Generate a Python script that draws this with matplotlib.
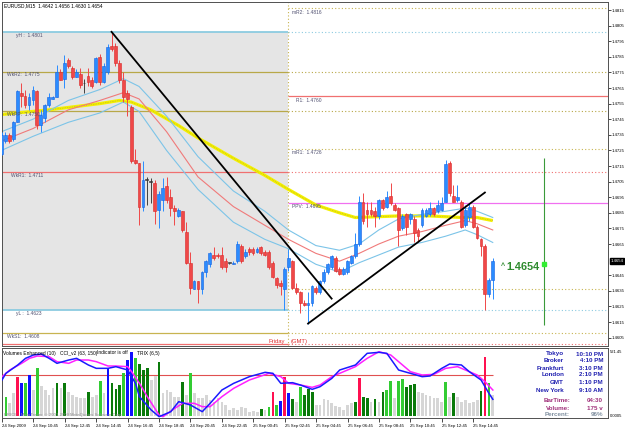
import matplotlib
matplotlib.use("Agg")
import matplotlib.pyplot as plt
from matplotlib.transforms import blended_transform_factory
import numpy as np

plt.rcParams['font.family'] = ['Liberation Sans', 'DejaVu Sans']

W, H = 625, 429

# EURUSD M15, bar 0 = 24 Sep 08:45
opens = [1.4723, 1.4731, 1.4735, 1.4732, 1.4743, 1.4762, 1.4760, 1.4754, 1.4757, 1.4763,
         1.4741, 1.4746, 1.4754, 1.4758, 1.4759, 1.4775, 1.4771, 1.4783, 1.4778, 1.4772,
         1.4774, 1.4768, 1.4773, 1.4770, 1.4769, 1.4785, 1.4769, 1.4775, 1.4792, 1.4792,
         1.4781, 1.4770, 1.4762, 1.4753, 1.4719, 1.4717, 1.4689, 1.4706, 1.4705, 1.4704,
         1.4687, 1.4693, 1.4702, 1.4695, 1.4688, 1.4683, 1.4686, 1.4673, 1.4653, 1.4636,
         1.4641, 1.4636, 1.4647, 1.4652, 1.4658, 1.4658, 1.4658, 1.4654, 1.4653, 1.4652,
         1.4654, 1.4664, 1.4657, 1.4662, 1.4662, 1.4660, 1.4663, 1.4660, 1.4660, 1.4653,
         1.4643, 1.4640, 1.4636, 1.4650, 1.4654, 1.4637, 1.4634, 1.4627, 1.4626, 1.4627,
         1.4637, 1.4634, 1.4641, 1.4647, 1.4650, 1.4656, 1.4649, 1.4646, 1.4647, 1.4653,
         1.4657, 1.4665, 1.4692, 1.4687, 1.4687, 1.4686, 1.4683, 1.4693, 1.4689, 1.4696,
         1.4690, 1.4688, 1.4675, 1.4684, 1.4681, 1.4681, 1.4674, 1.4677, 1.4683, 1.4684,
         1.4688, 1.4686, 1.4687, 1.4692, 1.4717, 1.4696, 1.4693, 1.4692, 1.4677, 1.4682,
         1.4689, 1.4676, 1.4668, 1.4664, 1.4633, 1.4642]
highs = [1.4737, 1.4737, 1.4736, 1.4744, 1.4764, 1.4768, 1.4764, 1.4762, 1.4766, 1.4764,
         1.4751, 1.4755, 1.4762, 1.4760, 1.4780, 1.4777, 1.4786, 1.4784, 1.4779, 1.4777,
         1.4778, 1.4771, 1.4778, 1.4772, 1.4785, 1.4787, 1.4781, 1.4793, 1.4801, 1.4794,
         1.4783, 1.4775, 1.4764, 1.4754, 1.4726, 1.4717, 1.4718, 1.4708, 1.4707, 1.4706,
         1.4699, 1.4707, 1.4708, 1.4700, 1.4690, 1.4688, 1.4686, 1.4679, 1.4660, 1.4642,
         1.4641, 1.4648, 1.4655, 1.4660, 1.4663, 1.4659, 1.4663, 1.4656, 1.4653, 1.4654,
         1.4667, 1.4665, 1.4662, 1.4663, 1.4663, 1.4663, 1.4664, 1.4661, 1.4661, 1.4654,
         1.4644, 1.4642, 1.4650, 1.4662, 1.4655, 1.4640, 1.4635, 1.4629, 1.4634, 1.4639,
         1.4638, 1.4642, 1.4649, 1.4653, 1.4658, 1.4657, 1.4650, 1.4650, 1.4655, 1.4658,
         1.4672, 1.4696, 1.4698, 1.4692, 1.4692, 1.4689, 1.4694, 1.4694, 1.4699, 1.4704,
         1.4691, 1.4689, 1.4684, 1.4685, 1.4685, 1.4683, 1.4675, 1.4688, 1.4688, 1.4692,
         1.4689, 1.4693, 1.4695, 1.4719, 1.4718, 1.4703, 1.4703, 1.4693, 1.4690, 1.4691,
         1.4690, 1.4677, 1.4669, 1.4665, 1.4643, 1.4656]
lows = [1.4722, 1.4730, 1.4730, 1.4731, 1.4743, 1.4753, 1.4752, 1.4751, 1.4754, 1.4739,
        1.4737, 1.4743, 1.4753, 1.4758, 1.4759, 1.4770, 1.4765, 1.4778, 1.4771, 1.4772,
        1.4765, 1.4762, 1.4766, 1.4765, 1.4768, 1.4767, 1.4768, 1.4774, 1.4789, 1.4779,
        1.4768, 1.4756, 1.4747, 1.4717, 1.4716, 1.4677, 1.4686, 1.4690, 1.4691, 1.4678,
        1.4675, 1.4686, 1.4691, 1.4683, 1.4677, 1.4682, 1.4673, 1.4652, 1.4633, 1.4636,
        1.4627, 1.4633, 1.4644, 1.4650, 1.4655, 1.4656, 1.4649, 1.4647, 1.4652, 1.4652,
        1.4653, 1.4653, 1.4656, 1.4658, 1.4658, 1.4659, 1.4658, 1.4657, 1.4649, 1.4643,
        1.4637, 1.4632, 1.4623, 1.4648, 1.4636, 1.4633, 1.4621, 1.4625, 1.4614, 1.4625,
        1.4633, 1.4633, 1.4640, 1.4646, 1.4649, 1.4647, 1.4645, 1.4645, 1.4646, 1.4652,
        1.4656, 1.4664, 1.4678, 1.4676, 1.4683, 1.4676, 1.4681, 1.4687, 1.4688, 1.4690,
        1.4686, 1.4664, 1.4674, 1.4671, 1.4678, 1.4666, 1.4666, 1.4676, 1.4682, 1.4683,
        1.4683, 1.4685, 1.4686, 1.4692, 1.4696, 1.4692, 1.4692, 1.4675, 1.4676, 1.4680,
        1.4675, 1.4668, 1.4657, 1.4623, 1.4631, 1.4630]
closes = [1.4735, 1.4735, 1.4731, 1.4743, 1.4763, 1.4760, 1.4754, 1.4759, 1.4764, 1.4741,
          1.4748, 1.4754, 1.4759, 1.4759, 1.4775, 1.4770, 1.4781, 1.4779, 1.4772, 1.4775,
          1.4767, 1.4768, 1.4769, 1.4766, 1.4784, 1.4769, 1.4779, 1.4791, 1.4790, 1.4781,
          1.4770, 1.4759, 1.4758, 1.4718, 1.4717, 1.4689, 1.4706, 1.4706, 1.4705, 1.4686,
          1.4697, 1.4701, 1.4693, 1.4688, 1.4686, 1.4687, 1.4674, 1.4653, 1.4637, 1.4641,
          1.4636, 1.4647, 1.4654, 1.4659, 1.4656, 1.4657, 1.4650, 1.4650, 1.4653, 1.4653,
          1.4665, 1.4654, 1.4660, 1.4660, 1.4659, 1.4662, 1.4659, 1.4658, 1.4650, 1.4644,
          1.4639, 1.4638, 1.4649, 1.4656, 1.4637, 1.4634, 1.4627, 1.4626, 1.4627, 1.4638,
          1.4634, 1.4641, 1.4647, 1.4652, 1.4657, 1.4648, 1.4646, 1.4649, 1.4654, 1.4657,
          1.4665, 1.4692, 1.4680, 1.4684, 1.4684, 1.4683, 1.4693, 1.4688, 1.4695, 1.4691,
          1.4687, 1.4674, 1.4683, 1.4676, 1.4684, 1.4672, 1.4670, 1.4687, 1.4687, 1.4688,
          1.4684, 1.4690, 1.4691, 1.4716, 1.4698, 1.4692, 1.4695, 1.4676, 1.4687, 1.4689,
          1.4676, 1.4669, 1.4664, 1.4633, 1.4642, 1.4654]

# moving average envelope (bar index -> price)
ma_idx = [0, 8, 17, 25, 31, 35, 42, 50, 59, 67, 73, 80, 86, 91, 96, 101, 107, 113, 118, 121, 125]
ma_mid = [1.4731, 1.4739, 1.4751, 1.4757, 1.4762, 1.4758, 1.4737, 1.4708, 1.4689, 1.4677, 1.4668,
          1.4659, 1.4654, 1.4659, 1.4665, 1.4670, 1.4673, 1.4677, 1.4680, 1.4678, 1.4674]
ma_up = [1.4737, 1.4745, 1.4757, 1.4764, 1.4771, 1.4766, 1.4747, 1.4721, 1.4699, 1.4686, 1.4674,
         1.4664, 1.4661, 1.4665, 1.4674, 1.4681, 1.4684, 1.4686, 1.4688, 1.4686, 1.4682]
ma_low = [1.4725, 1.4734, 1.4743, 1.4749, 1.4756, 1.4750, 1.4725, 1.4700, 1.4679, 1.4668, 1.4662,
          1.4652, 1.4647, 1.4653, 1.4658, 1.4663, 1.4666, 1.4670, 1.4674, 1.4671, 1.4666]
slow_idx = [0, 12, 25, 30, 33, 38, 45, 50, 59, 67, 73, 80, 86, 90, 101, 109, 117, 121, 125]
slow_ma = [1.4748, 1.4751, 1.4755, 1.4757, 1.4756, 1.4751, 1.4741, 1.4733, 1.4720, 1.4709,
           1.4700, 1.4690, 1.4685, 1.4682, 1.4683, 1.4683, 1.4682, 1.4682, 1.4680]

# trend lines and signal
trend_a_idx = [28, 84]
trend_a = [1.4801, 1.4630]
trend_b_idx = [78, 123]
trend_b = [1.4614, 1.4698]
signal_idx = 138
signal_top, signal_bottom, signal_mark = 1.4720, 1.4613, 1.4652
last_price = 1.4654

friday_idx = 73
y_high, y_low = 1.4801, 1.4623
# (price, colour, left part solid, right part dotted); None = solid on the right only
levels = [
    (1.4816, '#c8b450', False, True),
    (1.4801, '#8ccbe0', True, True),
    (1.4775, '#b8a848', True, True),
    (1.4760, '#f07070', None, None),
    (1.4750, '#b8a848', True, True),
    (1.4726, '#c8b450', False, True),
    (1.4711, '#f07070', True, True),
    (1.4691, '#f070f0', None, None),
    (1.4636, '#c8b450', False, True),
    (1.4623, '#8ccbe0', True, True),
    (1.4608, '#c8b450', True, True),
    (1.4601, '#f07070', True, True),
]
price_ticks = [1.4605 + 0.001 * k for k in range(22) if k != 5]

# volumes: l lime, d dark green, b blue, r red, g grey
volumes = [112, 112, 80, 136, 232, 196, 196, 246, 156, 286,
           180, 156, 126, 166, 196, 166, 196, 146, 126, 116,
           106, 106, 146, 116, 126, 210, 136, 286, 200, 160,
           186, 260, 336, 382, 346, 312, 276, 290, 216, 240,
           326, 136, 156, 146, 116, 116, 206, 126, 256, 136,
           106, 106, 126, 96, 86, 106, 86, 66, 36, 46,
           36, 56, 46, 26, 30, 26, 40, 36, 56, 142,
           66, 90, 236, 136, 100, 86, 176, 126, 160, 146,
           66, 66, 100, 96, 80, 60, 56, 36, 66, 76,
           86, 226, 116, 110, 86, 100, 86, 146, 156, 210,
           106, 212, 220, 176, 186, 190, 146, 136, 126, 120,
           106, 106, 86, 206, 116, 136, 116, 86, 96, 76,
           86, 96, 152, 356, 196, 126]
vol_codes = ("llggrblbgl" "ggggdgdggg" "ggdgglgbdd" "dlbbldddgg" "dgggggdglg"
             "gggggggggg" "ggggggdglr" "lbrbdglddd" "gggggggggg" "drddgdgdll"
             "glldddgggg" "ggglgdgggg" "ggdrlg")

osc_a_idx = [0, 1, 4, 6, 8, 10, 12, 14, 17, 19, 22, 24, 27, 29, 32, 34, 35, 38, 40, 43,
             45, 48, 51, 53, 56, 59, 63, 67, 69, 71, 74, 76, 79, 81, 84, 86, 90, 93, 96, 98,
             101, 104, 107, 109, 112, 114, 117, 119, 122, 124, 125]
osc_a = [216, 256, 306, 346, 366, 372, 346, 316, 336, 346, 306, 286, 286, 296, 276, 196, 116, 36, -4, 26,
         86, 66, 26, 76, 156, 196, 236, 262, 256, 196, 200, 186, 160, 176, 226, 276, 306, 376, 382, 376,
         276, 256, 236, 240, 286, 312, 306, 266, 216, 136, 100]
osc_b_idx = [0, 2, 5, 7, 9, 12, 14, 17, 19, 22, 24, 27, 29, 32, 33, 35, 37, 40, 41, 44,
             46, 49, 51, 53, 56, 59, 63, 68, 71, 73, 76, 79, 81, 84, 88, 90, 93, 96, 99, 101,
             104, 107, 110, 113, 116, 118, 121, 123, 125]
osc_b = [236, 276, 316, 346, 360, 356, 326, 316, 336, 336, 326, 300, 300, 296, 266, 196, 116, 6, -4, 46,
         76, 76, 56, 56, 116, 166, 216, 256, 236, 196, 186, 172, 186, 236, 276, 296, 346, 386, 366, 326,
         266, 246, 250, 286, 296, 276, 246, 206, 156]
osc_level = 246

time_idx = list(range(0, 121, 8))
time_labels = ['24 Sep 2009', '24 Sep 10:45', '24 Sep 12:45', '24 Sep 14:45', '24 Sep 16:45',
               '24 Sep 18:45', '24 Sep 20:45', '24 Sep 22:45', '25 Sep 00:45', '25 Sep 02:45',
               '25 Sep 04:45', '25 Sep 06:45', '25 Sep 08:45', '25 Sep 10:45', '25 Sep 12:45',
               '25 Sep 14:45']

clock_names = ['Tokyo', 'Broker', 'Frankfurt', 'London', 'GMT', 'New York']
clock_times = ['10:10 PM', '4:10 PM', '3:10 PM', '2:10 PM', '1:10 PM', '9:10 AM']
bar_info = [('BarTime:', '04:30'), ('Volume:', '175 v'), ('Percent:', '96%')]


def bx(px):
    return (px - 1.5) / 3.93


def pr(py):
    return 1.4815 - (py - 10) * 0.0000641


def ftext(px, py, s, **kw):
    fig.text(px / W, 1 - py / H, s, **kw)


fig = plt.figure(figsize=(W / 100, H / 100), dpi=100)
ax = fig.add_axes([2 / W, 1 - 346 / H, 606 / W, 344 / H])
ax2 = fig.add_axes([2 / W, 1 - 418 / H, 606 / W, 70 / H])

x0, x1 = bx(2), bx(608)
ax.set_xlim(x0, x1)
ax.set_ylim(pr(346), pr(2))

# yesterday's range shading
ax.fill_between([x0, friday_idx], y_low, y_high, color='#e5e5e5', zorder=0, lw=0)
ax.axvline(friday_idx, color='#c8b450', lw=0.8, ls=(0, (1, 2)), zorder=1)

for p, col, left, right in levels:
    if left is None:
        ax.hlines(p, friday_idx, x1, color=col, lw=0.9, zorder=1)
        continue
    if left:
        ax.hlines(p, x0, friday_idx, color=col, lw=1.3 if col == '#8ccbe0' else 0.9, zorder=1)
    if right:
        ax.hlines(p, friday_idx, x1, color=col, lw=0.8, ls=(0, (1, 2)), zorder=1)

ax.plot(slow_idx, slow_ma, color='#f4f000', lw=2.3, zorder=2, solid_capstyle='butt')
ax.plot(slow_idx, slow_ma, color='#b0a830', lw=0.5, ls=(0, (1, 1.5)), zorder=2)
ax.plot(ma_idx, ma_up, color='#7cc4e8', lw=0.8, zorder=2)
ax.plot(ma_idx, ma_low, color='#7cc4e8', lw=0.8, zorder=2)
ax.plot(ma_idx, ma_mid, color='#f07a7a', lw=0.8, zorder=2)

o = np.array(opens)
hh = np.array(highs)
ll = np.array(lows)
c = np.array(closes)
idx = np.arange(len(o))
face = np.where(c > o, '#2a8cff', np.where(c < o, '#f04848', '#404040'))
edge = np.where(c > o, '#1560e0', np.where(c < o, '#d82828', '#303030'))
ax.vlines(idx, ll, hh, colors=face, lw=0.7, zorder=4)
body = np.maximum(np.abs(c - o), 0.00004)
ax.bar(idx, body, bottom=np.minimum(o, c), width=0.72, color=face, edgecolor=edge,
       linewidth=0.4, zorder=5)

ax.plot(trend_a_idx, trend_a, color='black', lw=1.3, zorder=6)
ax.plot(trend_b_idx, trend_b, color='black', lw=1.3, zorder=6)
ax.vlines(signal_idx, signal_bottom, signal_top, color='#3a9a3a', lw=0.8, zorder=6)
ax.plot([signal_idx], [signal_mark], 's', ms=3, color='#33ee33', zorder=7)

ax.set_xticks([])
ax.set_yticks(price_ticks)
ax.set_yticklabels(['%.4f' % p for p in price_ticks])
ax.yaxis.tick_right()
ax.tick_params(axis='y', labelsize=3.1, length=2, width=0.5, pad=0.8)
for s in ax.spines.values():
    s.set_color('#505050')
    s.set_linewidth(0.7)

tr = blended_transform_factory(ax.transAxes, ax.transData)
ax.text(1.004, last_price, '%.4f' % last_price, transform=tr, fontsize=3.1, color='white',
        va='center', ha='left', bbox=dict(boxstyle='square,pad=0.2', fc='black', ec='black'))

# labels on the main chart
small = dict(fontsize=3.5, color='#505070', va='center', ha='left')
ftext(4, 6, 'EURUSD,M15  1.4642 1.4656 1.4630 1.4654', fontsize=3.5, color='black',
      va='center', ha='left')
ftext(16, 35, 'yH :  1.4801', **small)
ftext(7, 75, 'WkR2:  1.4775', **small)
ftext(7, 115, 'WkPP:  1.4750', **small)
ftext(11, 175, 'WkR1:  1.4711', **small)
ftext(16, 313, 'yL :  1.4623', **small)
ftext(7, 337, 'WkS1:  1.4608', **small)
ftext(292, 13, 'mR2:  1.4816', **small)
ftext(296, 100, 'R1:  1.4760', **small)
ftext(292, 153, 'mR1:  1.4726', **small)
ftext(292, 207, 'PPV:  1.4695', **small)
ftext(285, 341, 'Friday', fontsize=4.2, color='#e03030', va='center', ha='right')
ftext(291, 341, '(GMT)', fontsize=4.2, color='#e03030', va='center', ha='left')
ftext(501, 266, '^', fontsize=5, color='#2e8b2e', fontweight='bold', va='center', ha='left')
ftext(506, 267, '1.4654', fontsize=7.8, color='#2e8b2e', fontweight='bold', va='center', ha='left')

# indicator panel
vcol = {'l': '#33cc33', 'd': '#0a7a0a', 'b': '#1010ff', 'r': '#ff1050', 'g': '#d6d6d6'}
ax2.bar(idx, volumes, width=0.7, color=[vcol[k] for k in vol_codes], zorder=2)
ax2.hlines(osc_level, x0, idx[-1], color='#e05050', lw=0.8, zorder=1)
ax2.plot(osc_b_idx, osc_b, color='#ff20ff', lw=1.1, zorder=3)
ax2.plot(osc_a_idx, osc_a, color='#1a1aff', lw=1.1, zorder=3)
ax2.set_xlim(x0, x1)
ax2.set_ylim(-12, 408)
ax2.set_yticks([])
ax2.set_xticks(time_idx)
ax2.set_xticklabels(time_labels, ha='left')
ax2.tick_params(axis='x', labelsize=3.1, length=3, width=0.5, pad=1)
for s in ax2.spines.values():
    s.set_color('#505050')
    s.set_linewidth(0.7)

ftext(3, 353, 'Volumes Enhanced (10)', fontsize=3.5, color='black', va='center', ha='left')
ftext(60, 353, 'CCI_v2 (63, 150)', fontsize=3.5, color='black', va='center', ha='left')
ftext(97, 353, 'Indicator is off', fontsize=3.5, color='black', va='center', ha='left')
ftext(137, 353, 'TRIX (6,5)', fontsize=3.5, color='black', va='center', ha='left')
ftext(4, 415, 'PRICE - MetaTrader, \u00a9 2001-2009 MetaQuotes Software Corp.', fontsize=3.1,
      color='#909090', va='center', ha='left')
ftext(610, 352, '521.45', fontsize=3.0, color='black', va='center', ha='left')
ftext(610, 416, '0.0005', fontsize=3.0, color='black', va='center', ha='left')

rows = [354, 361, 368, 375, 382.5, 390.5]
for yy, name, t in zip(rows, clock_names, clock_times):
    ftext(564, yy, name, fontsize=4.5, color='#2020b0', fontweight='bold', va='center', ha='right')
    ftext(603, yy, t, fontsize=4.5, color='#2020b0', fontweight='bold', va='center', ha='right')
info_cols = ['#a0307a', '#a0307a', '#8090a0']
for yy, (name, v), col in zip([400.5, 408, 415], bar_info, info_cols):
    ftext(570, yy, name, fontsize=4.5, color=col, fontweight='bold', va='center', ha='right')
    ftext(603, yy, v, fontsize=4.5, color=col, fontweight='bold', va='center', ha='right')

fig.savefig('out.png', dpi=100, facecolor='white')
